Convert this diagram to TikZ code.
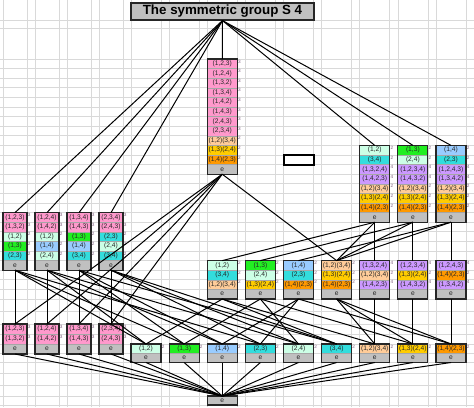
\documentclass[tikz,border=0pt]{standalone}
\usepackage{fontspec}
\setmainfont{Liberation Sans}
\definecolor{pk}{HTML}{FF99CC}
\definecolor{lv}{HTML}{CC99FF}
\definecolor{pc}{HTML}{FFCC99}
\definecolor{yl}{HTML}{FFCC00}
\definecolor{og}{HTML}{FF9900}
\definecolor{mt}{HTML}{CCFFE6}
\definecolor{gn}{HTML}{22EE22}
\definecolor{cy}{HTML}{33DDDD}
\definecolor{lb}{HTML}{99CCFF}
\definecolor{gy}{HTML}{C0C0C0}
\definecolor{gridc}{HTML}{D9D9D9}
\definecolor{supc}{HTML}{806080}
\tikzset{
  celltext/.style={font=\fontsize{5}{5}\selectfont, text=black!85, inner sep=0pt},
  suptext/.style={font=\fontsize{3.5}{3.5}\selectfont, text=supc, anchor=north west, inner sep=0.4pt},
  cellline/.style={draw=gray!70, line width=0.3pt},
  boxline/.style={draw=black!85, line width=0.9pt},
  link/.style={draw=black, line width=0.75pt},
  gridline/.style={draw=gridc, line width=0.5pt},
  titlebox/.style={fill=gy, draw=black!85, line width=0.9pt, font=\bfseries\fontsize{10}{12}\selectfont,
    minimum width=137.25pt, minimum height=12.75pt, inner sep=0pt},
  selcell/.style={draw=black, line width=1.5pt, fill=white}
}
\newcommand{\rowh}{9.6}
% one subgroup: name, left, top, width, rows, cells colour/text/order
\newcommand{\grp}[6]{%
  \foreach \cellc/\cellt/\celln [count=\k from 0] in {#6}{
    \fill[fill=\cellc] (#2,{#3+\k*\rowh}) rectangle ({#2+#4},{#3+(\k+1)*\rowh});
    \draw[cellline] (#2,{#3+\k*\rowh}) -- ({#2+#4},{#3+\k*\rowh});
    \node[celltext] (#1-\k) at ({#2+#4/2},{#3+(\k+0.5)*\rowh}) {\cellt};
    \node[suptext] at ({#2+#4},{#3+\k*\rowh}) {\celln};
  }
  \draw[boxline] (#2,#3) rectangle ({#2+#4},{#3+#5*\rowh});
  \coordinate (#1-t) at ({#2+#4/2},#3);
  \coordinate (#1-b) at ({#2+#4/2},{#3+#5*\rowh});
}
\begin{document}
\begin{tikzpicture}[x=0.75pt,y=-0.75pt]
\useasboundingbox (0,0) rectangle (474,407);
\fill[white] (0,0) rectangle (474,407);
% sheet grid
\foreach \gx in {3,27,35,59,67,91,99,123}
  \draw[gridline] (\gx,0) -- (\gx,407);
\foreach \i in {0,...,8}{
  \draw[gridline] ({131+38.125*\i},0) -- ++(0,407);
  \draw[gridline] ({161+38.125*\i},0) -- ++(0,407);
}
\foreach \gy in {20,28,311.5,324,334,344,353.5,362.5,373.5,385,396,405}
  \draw[gridline] (0,\gy) -- (474,\gy);
\foreach \j in {0,...,25}
  \draw[gridline] (0,{59+9.6*\j}) -- (474,{59+9.6*\j});

\node[titlebox] (title) at (222.5,11.5) {The symmetric group S 4};
\draw[selcell] (284,155) rectangle (314,164.6);

% order 12
\grp{A4}{207.25}{59}{30}{12}{pk/{(1,2,3)}/3, pk/{(1,2,4)}/3, pk/{(1,3,2)}/3, pk/{(1,3,4)}/3,
  pk/{(1,4,2)}/3, pk/{(1,4,3)}/3, pk/{(2,4,3)}/3, pk/{(2,3,4)}/3,
  pc/{(1,2)(3,4)}/2, yl/{(1,3)(2,4)}/2, og/{(1,4)(2,3)}/2, gy/e/{}}
% order 8
\grp{D1}{359.75}{145.4}{30}{8}{mt/{(1,2)}/2, cy/{(3,4)}/2, lv/{(1,3,2,4)}/4, lv/{(1,4,2,3)}/4,
  pc/{(1,2)(3,4)}/2, yl/{(1,3)(2,4)}/2, og/{(1,4)(2,3)}/2, gy/e/{}}
\grp{D2}{397.875}{145.4}{30}{8}{gn/{(1,3)}/2, mt/{(2,4)}/2, lv/{(1,2,3,4)}/4, lv/{(1,4,3,2)}/4,
  pc/{(1,2)(3,4)}/2, yl/{(1,3)(2,4)}/2, og/{(1,4)(2,3)}/2, gy/e/{}}
\grp{D3}{436}{145.4}{30}{8}{lb/{(1,4)}/2, cy/{(2,3)}/2, lv/{(1,2,4,3)}/4, lv/{(1,3,4,2)}/4,
  pc/{(1,2)(3,4)}/2, yl/{(1,3)(2,4)}/2, og/{(1,4)(2,3)}/2, gy/e/{}}
% order 6
\grp{S1}{3}{212.6}{24}{6}{pk/{(1,2,3)}/3, pk/{(1,3,2)}/3, mt/{(1,2)}/2, gn/{(1,3)}/2, cy/{(2,3)}/2, gy/e/{}}
\grp{S2}{35}{212.6}{24}{6}{pk/{(1,2,4)}/3, pk/{(1,4,2)}/3, mt/{(1,2)}/2, lb/{(1,4)}/2, mt/{(2,4)}/2, gy/e/{}}
\grp{S3}{67}{212.6}{24}{6}{pk/{(1,3,4)}/3, pk/{(1,4,3)}/3, gn/{(1,3)}/2, lb/{(1,4)}/2, cy/{(3,4)}/2, gy/e/{}}
\grp{S4}{99}{212.6}{24}{6}{pk/{(2,3,4)}/3, pk/{(2,4,3)}/3, cy/{(2,3)}/2, mt/{(2,4)}/2, cy/{(3,4)}/2, gy/e/{}}
% order 4
\grp{M1}{207.25}{260.6}{30}{4}{mt/{(1,2)}/2, cy/{(3,4)}/2, pc/{(1,2)(3,4)}/2, gy/e/{}}
\grp{M2}{245.375}{260.6}{30}{4}{gn/{(1,3)}/2, mt/{(2,4)}/2, yl/{(1,3)(2,4)}/2, gy/e/{}}
\grp{M3}{283.5}{260.6}{30}{4}{lb/{(1,4)}/2, cy/{(2,3)}/2, og/{(1,4)(2,3)}/2, gy/e/{}}
\grp{M4}{321.625}{260.6}{30}{4}{pc/{(1,2)(3,4)}/2, yl/{(1,3)(2,4)}/2, og/{(1,4)(2,3)}/2, gy/e/{}}
\grp{M5}{359.75}{260.6}{30}{4}{lv/{(1,3,2,4)}/4, pc/{(1,2)(3,4)}/2, lv/{(1,4,2,3)}/4, gy/e/{}}
\grp{M6}{397.875}{260.6}{30}{4}{lv/{(1,2,3,4)}/4, yl/{(1,3)(2,4)}/2, lv/{(1,4,3,2)}/4, gy/e/{}}
\grp{M7}{436}{260.6}{30}{4}{lv/{(1,2,4,3)}/4, og/{(1,4)(2,3)}/2, lv/{(1,3,4,2)}/4, gy/e/{}}
% order 3
\renewcommand{\rowh}{10}
\grp{C1}{3}{324}{24}{3}{pk/{(1,2,3)}/3, pk/{(1,3,2)}/3, gy/e/{}}
\grp{C2}{35}{324}{24}{3}{pk/{(1,2,4)}/3, pk/{(1,4,2)}/3, gy/e/{}}
\grp{C3}{67}{324}{24}{3}{pk/{(1,3,4)}/3, pk/{(1,4,3)}/3, gy/e/{}}
\grp{C4}{99}{324}{24}{3}{pk/{(2,3,4)}/3, pk/{(2,4,3)}/3, gy/e/{}}
% order 2
\renewcommand{\rowh}{9.25}
\grp{O1}{131}{344}{30}{2}{mt/{(1,2)}/2, gy/e/{}}
\grp{O2}{169.125}{344}{30}{2}{gn/{(1,3)}/2, gy/e/{}}
\grp{O3}{207.25}{344}{30}{2}{lb/{(1,4)}/2, gy/e/{}}
\grp{O4}{245.375}{344}{30}{2}{cy/{(2,3)}/2, gy/e/{}}
\grp{O5}{283.5}{344}{30}{2}{mt/{(2,4)}/2, gy/e/{}}
\grp{O6}{321.625}{344}{30}{2}{cy/{(3,4)}/2, gy/e/{}}
\grp{O7}{359.75}{344}{30}{2}{pc/{(1,2)(3,4)}/2, gy/e/{}}
\grp{O8}{397.875}{344}{30}{2}{yl/{(1,3)(2,4)}/2, gy/e/{}}
\grp{O9}{436}{344}{30}{2}{og/{(1,4)(2,3)}/2, gy/e/{}}
% order 1
\renewcommand{\rowh}{9}
\grp{E}{207.25}{396}{30}{1}{gy/e/{}}

% inclusions
\foreach \g in {A4,D1,D2,D3,S1,S2,S3,S4}
  \draw[link] (title.south) -- (\g-t);
\foreach \g in {M4,C1,C2,C3,C4}
  \draw[link] (A4-b) -- (\g-t);
\foreach \a/\b in {D1/M1,D1/M4,D1/M5,D2/M2,D2/M4,D2/M6,D3/M3,D3/M4,D3/M7,
  S1/C1,S1/O1,S1/O2,S1/O4,S2/C2,S2/O1,S2/O3,S2/O5,
  S3/C3,S3/O2,S3/O3,S3/O6,S4/C4,S4/O4,S4/O5,S4/O6,
  M1/O1,M1/O6,M1/O7,M2/O2,M2/O5,M2/O8,M3/O3,M3/O4,M3/O9,
  M4/O7,M4/O8,M4/O9,M5/O7,M6/O8,M7/O9}
  \draw[link] (\a-b) -- (\b-t);
\foreach \g in {C1,C2,C3,C4,O1,O2,O3,O4,O5,O6,O7,O8,O9}
  \draw[link] (\g-b) -- (E-t);
\end{tikzpicture}
\end{document}
